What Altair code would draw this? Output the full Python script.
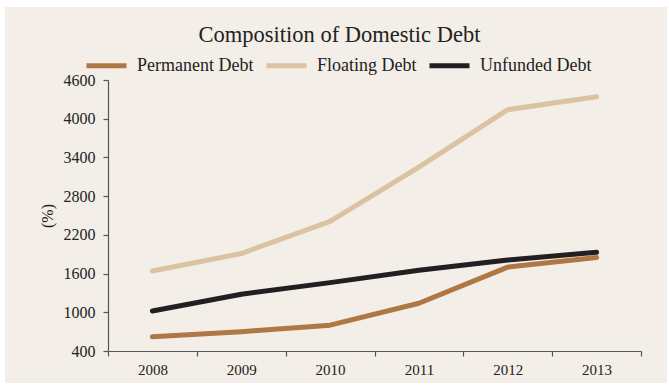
import altair as alt
import pandas as pd

# Domestic debt composition, 2008-2013
years = ["2008", "2009", "2010", "2011", "2012", "2013"]
permanent_debt = [620, 700, 800, 1140, 1700, 1850]
floating_debt = [1640, 1910, 2410, 3250, 4140, 4340]
unfunded_debt = [1020, 1280, 1460, 1650, 1810, 1930]

series_names = ["Permanent Debt", "Floating Debt", "Unfunded Debt"]
series_colors = ["#AE7743", "#DBC2A3", "#231F20"]
y_tick_values = [400, 1000, 1600, 2200, 2800, 3400, 4000, 4600]

FONT = "Liberation Serif"
INK = "#222222"
AXIS_GREY = "#555555"
PANEL = "#F3EEE7"

rows = []
for name, vals in zip(series_names, [permanent_debt, floating_debt, unfunded_debt]):
    for yr, v in zip(years, vals):
        rows.append({"year": yr, "series": name, "value": v})
df = pd.DataFrame(rows)

# beige panel behind the whole figure, leaving a thin white border
panel = alt.Chart(pd.DataFrame({"k": [0]})).mark_rect(color=PANEL).encode(
    x=alt.value(-103), x2=alt.value(559), y=alt.value(-73), y2=alt.value(303)
)

lines = alt.Chart(df).mark_line(strokeWidth=5, strokeCap="round", strokeJoin="round").encode(
    x=alt.X(
        "year:O",
        sort=years,
        scale=alt.Scale(type="band", paddingInner=0, paddingOuter=0),
        axis=alt.Axis(
            title=None, labelAngle=0, tickBand="extent", tickSize=5, zindex=1,
            labelFont=FONT, labelFontSize=15, labelColor=INK, labelPadding=6,
            domainColor=AXIS_GREY, tickColor=AXIS_GREY, domainWidth=1.2, tickWidth=1.2,
        ),
    ),
    y=alt.Y(
        "value:Q",
        scale=alt.Scale(domain=[400, 4600], nice=False, zero=False),
        axis=alt.Axis(
            values=y_tick_values, format="d", grid=False, title="(%)", tickSize=5, zindex=1,
            labelFont=FONT, labelFontSize=16, labelColor=INK, labelPadding=8,
            titleFont=FONT, titleFontSize=16, titleFontWeight="normal", titleColor=INK,
            titlePadding=8,
            domainColor=AXIS_GREY, tickColor=AXIS_GREY, domainWidth=1.2, tickWidth=1.2,
        ),
    ),
    color=alt.Color(
        "series:N",
        scale=alt.Scale(domain=series_names, range=series_colors),
        legend=alt.Legend(
            title=None, orient="none", legendX=-24, legendY=-37, zindex=1,
            direction="horizontal", symbolType="stroke", symbolSize=1600,
            symbolStrokeWidth=5, labelFont=FONT, labelFontSize=18, labelColor=INK,
            labelOffset=8, columnPadding=2,
        ),
    ),
)

chart = alt.layer(panel, lines).properties(
    width=533,
    height=271,
    autosize=alt.AutoSizeParams(type="none"),
    padding={"left": 108, "top": 80, "right": 28, "bottom": 34},
    background="white",
    title=alt.TitleParams(
        "Composition of Domestic Debt", font=FONT, fontSize=22.5, fontWeight="normal",
        color=INK, anchor="middle", frame="group", dx=-35, dy=53, offset=14,
    ),
).configure_view(stroke=None)

chart.save("out.html", embed_options={"renderer": "svg", "actions": False})
